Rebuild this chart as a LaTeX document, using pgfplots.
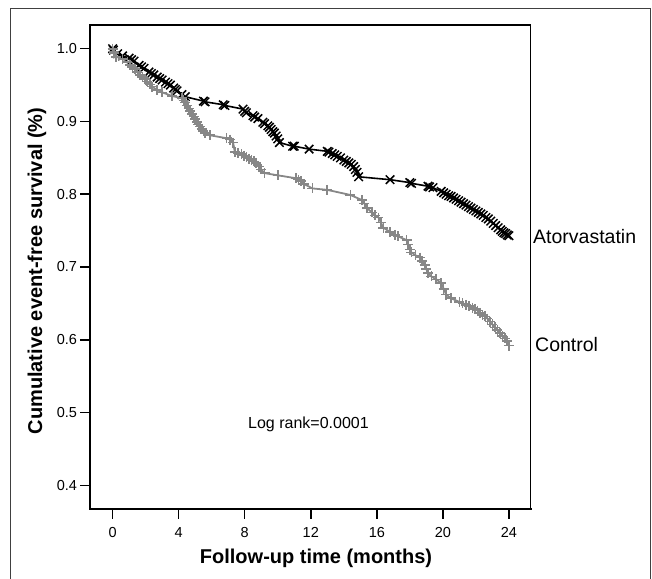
\documentclass[border=0pt]{standalone}
\usepackage{pgfplots}
\pgfplotsset{compat=1.18}
\usepackage{fontspec}
\setmainfont{Liberation Sans}
\definecolor{ctrl}{RGB}{135,135,135}
\pgfplotstableread{
x y
0 1.0
0.05 0.998
0.3 0.993
0.6 0.990
1.0 0.987
1.15 0.985
1.3 0.983
1.6 0.977
1.75 0.975
1.9 0.973
2.2 0.968
2.35 0.966
2.5 0.964
2.7 0.961
2.85 0.959
3.0 0.957
3.2 0.954
3.35 0.952
3.5 0.950
3.7 0.946
3.8 0.944
3.9 0.942
4.2 0.937
4.4 0.934
5.5 0.928
5.6 0.927
6.7 0.923
6.8 0.922
7.9 0.917
8.0 0.914
8.1 0.912
8.5 0.908
8.6 0.906
8.8 0.904
9.1 0.899
9.2 0.897
9.4 0.894
9.5 0.892
9.6 0.889
9.7 0.886
9.8 0.884
9.9 0.880
10.0 0.876
10.1 0.871
10.9 0.866
11.0 0.866
11.9 0.862
13.0 0.859
13.1 0.858
13.3 0.856
13.45 0.854
13.6 0.852
13.8 0.850
14.0 0.847
14.15 0.845
14.3 0.843
14.45 0.841
14.6 0.838
14.7 0.834
14.8 0.830
14.9 0.824
16.8 0.820
18.0 0.816
18.1 0.815
19.1 0.811
19.2 0.810
19.4 0.809
19.9 0.804
20.05 0.802
20.2 0.800
20.35 0.798
20.5 0.797
20.65 0.795
20.8 0.793
20.95 0.791
21.1 0.789
21.25 0.787
21.4 0.785
21.55 0.783
21.7 0.781
21.85 0.779
22.0 0.777
22.15 0.775
22.3 0.773
22.45 0.771
22.6 0.768
22.75 0.766
22.9 0.763
23.05 0.760
23.2 0.757
23.35 0.754
23.5 0.751
23.6 0.749
23.7 0.747
23.8 0.746
23.9 0.744
24.0 0.743
}\atorva
\pgfplotstableread{
x y
0 1.0
0.05 0.996
0.1 0.994
0.2 0.989
0.6 0.986
0.9 0.982
1.05 0.978
1.2 0.975
1.35 0.972
1.5 0.968
1.65 0.964
1.8 0.961
1.95 0.958
2.1 0.955
2.25 0.951
2.4 0.948
2.7 0.943
3.0 0.940
3.6 0.935
4.2 0.932
4.3 0.929
4.4 0.926
4.5 0.922
4.6 0.918
4.7 0.914
4.8 0.910
4.9 0.907
5.0 0.903
5.1 0.899
5.2 0.896
5.3 0.893
5.4 0.890
5.5 0.887
5.6 0.884
5.9 0.881
6.9 0.877
7.1 0.875
7.3 0.871
7.4 0.858
7.6 0.857
7.8 0.855
7.95 0.853
8.1 0.851
8.25 0.849
8.4 0.847
8.55 0.845
8.7 0.843
8.85 0.838
9.0 0.834
9.2 0.829
10.0 0.826
11.1 0.822
11.25 0.820
11.4 0.818
11.6 0.814
12.1 0.808
13.0 0.806
14.4 0.799
15.1 0.792
15.25 0.787
15.4 0.781
15.7 0.775
15.9 0.771
16.1 0.768
16.25 0.761
16.4 0.754
16.8 0.748
17.1 0.744
17.3 0.742
17.8 0.737
17.9 0.731
18.0 0.724
18.1 0.720
18.35 0.716
18.6 0.713
18.75 0.708
18.9 0.703
19.0 0.697
19.1 0.692
19.3 0.687
19.6 0.683
19.9 0.678
20.05 0.670
20.2 0.662
20.5 0.657
21.0 0.652
21.2 0.650
21.4 0.648
21.6 0.646
21.8 0.644
21.95 0.642
22.1 0.640
22.25 0.637
22.4 0.634
22.55 0.632
22.7 0.629
22.85 0.625
23.0 0.621
23.15 0.617
23.3 0.613
23.45 0.609
23.6 0.605
23.75 0.602
23.9 0.598
24.0 0.592
}\control
\begin{document}
\begin{tikzpicture}[x=1pt,y=1pt]
\path[use as bounding box] (0,0) rectangle (652,578);
\draw[line width=0.9pt, black!75] (10,-2) -- (10,570) -- (650,570) -- (650,-2);
\begin{axis}[
  at={(90pt,69pt)}, anchor=south west,
  scale only axis, width=440.7pt, height=484pt,
  xmin=-1.37, xmax=25.32, ymin=0.3674, ymax=1.0326,
  xtick={0,4,8,12,16,20,24},
  ytick={0.4,0.5,0.6,0.7,0.8,0.9,1.0},
  yticklabel style={/pgf/number format/fixed, /pgf/number format/precision=1, /pgf/number format/fixed zerofill},
  xticklabel style={yshift=-5pt},
  xtick pos=bottom, ytick pos=left,
  tick align=outside, major tick length=9.5pt,
  tick style={line width=1.5pt, black},
  axis line style={line width=1.1pt},
  ticklabel style={font=\fontsize{14.5}{16}\selectfont},
  /pgf/number format/assume math mode=true,
  clip=false,
]
\addplot[black, line width=1.6pt, mark=x, mark size=6pt, mark options={line width=1.5pt}] table[x=x,y=y] {\atorva};
\addplot[ctrl, line width=1.8pt, mark=+, mark size=5pt, mark options={line width=1.6pt}] table[x=x,y=y] {\control};
\draw[line width=2.6pt, line cap=rect] (rel axis cs:0,1) -- (rel axis cs:0,0) -- (rel axis cs:1,0);
\end{axis}
\node[font=\fontsize{20}{24}\selectfont\bfseries, anchor=center] at (316,20) {Follow-up time (months)};
\node[font=\fontsize{20}{24}\selectfont\bfseries, anchor=center, rotate=90] at (37,307) {Cumulative event-free survival (\%)};
\node[font=\fontsize{19.5}{22}\selectfont, anchor=west, inner sep=0pt] at (533,341) {Atorvastatin};
\node[font=\fontsize{19.5}{22}\selectfont, anchor=west, inner sep=0pt] at (535,233) {Control};
\node[font=\fontsize{16}{18}\selectfont, anchor=west, inner sep=0pt] at (248,154) {Log rank=0.0001};
\end{tikzpicture}
\end{document}
